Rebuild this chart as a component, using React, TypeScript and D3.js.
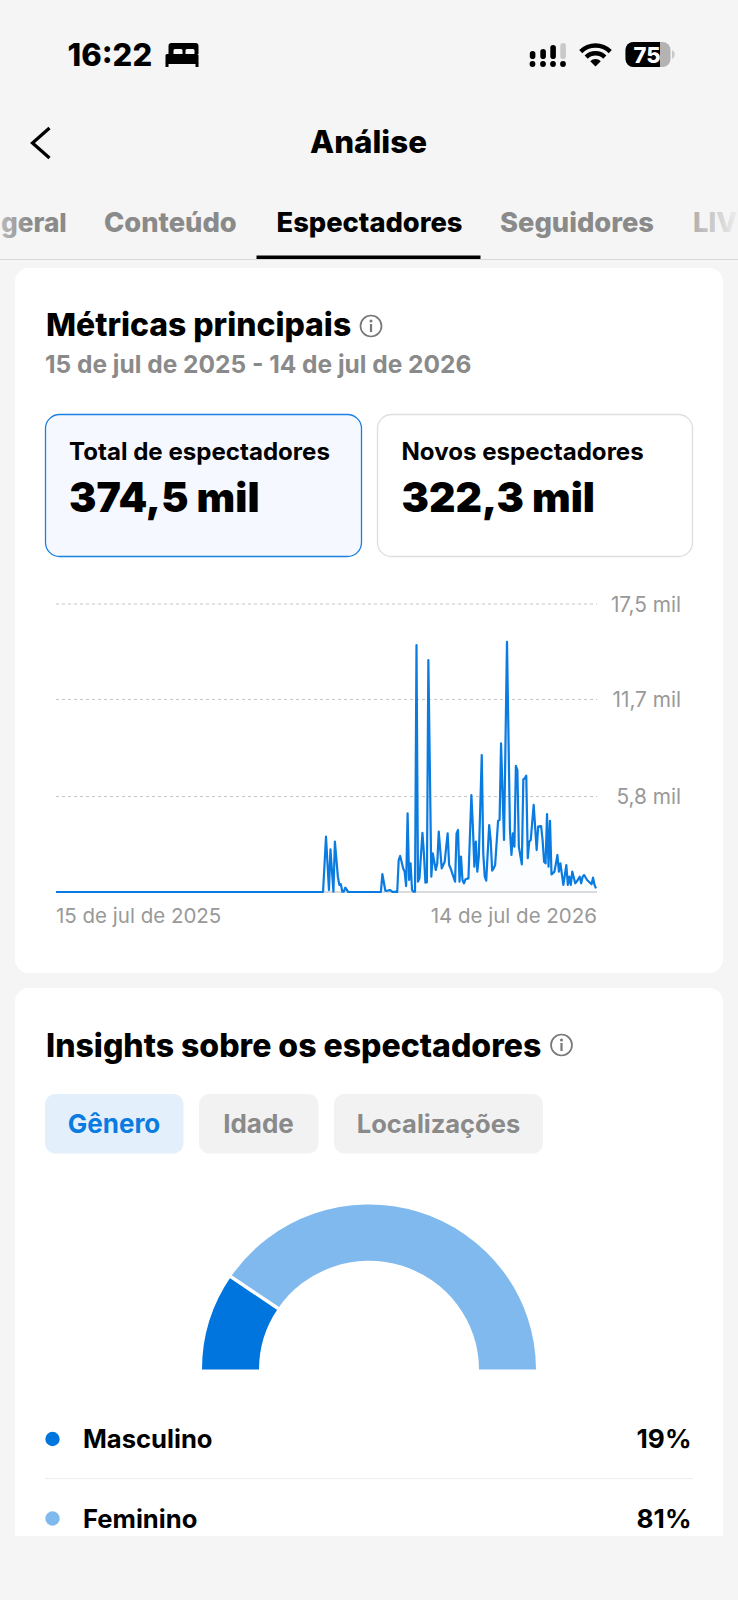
import React from 'react';
import * as d3 from 'd3';

// Days since 15 Jul 2025 and viewers (thousands)
const days = [
  0, 180, 182, 184, 185, 187, 188, 190, 191, 192, 193, 194, 195, 197, 219, 220, 222, 223, 225, 227, 229, 230,
  231, 232, 234, 235, 236, 237, 238, 239, 240, 241, 242, 243, 244, 245, 247, 248, 249, 250, 251, 253, 254, 255,
  256, 257, 258, 260, 262, 264, 265, 266, 269, 270, 271, 272, 273, 274, 275, 276, 278, 280, 281, 282, 283, 284,
  285, 287, 288, 289, 290, 292, 293, 294, 295, 296, 298, 299, 300, 302, 304, 306, 307, 308, 309, 310, 311, 312,
  314, 315, 316, 317, 318, 319, 320, 322, 324, 325, 327, 328, 329, 330, 331, 332, 333, 334, 336, 338, 339, 340,
  342, 344, 345, 346, 347, 348, 350, 351, 353, 354, 355, 356, 358, 361, 362, 363, 364,
];
const viewers = [
  0, 0, 3.36, 0.12, 2.59, 0.02, 3.06, 0.93, 0.43, 0.47, 0.02, 0.02, 0.26, 0, 0, 1.09, 0.08, 0.06, 0.12, 0, 0.02, 0,
  1.94, 2.19, 1.44, 1.24, 0.36, 4.78, 0.73, 1.74, 0.12, 0.02, 0.02, 15.0, 0.63, 0.83, 3.6, 2.35, 0.57, 0.6, 14.09, 0.93, 2.35, 1.84,
  1.34, 1.74, 3.67, 1.44, 1.84, 3.56, 1.64, 1.44, 0.63, 3.56, 3.77, 0.63, 2.15, 0.73, 0.53, 0.77, 0.83, 5.89, 3.97, 1.54, 3.06, 1.24,
  2.15, 8.32, 2.35, 0.93, 0.69, 4.07, 3.16, 1.3, 1.44, 1.64, 4.33, 4.37, 9.03, 3.16, 15.2, 3.77, 2.25, 3.56, 2.75, 7.67, 7.41, 2.75,
  1.68, 6.84, 6.91, 7.07, 2.05, 3.06, 3.16, 5.29, 2.55, 3.97, 4.01, 3.16, 1.84, 1.74, 4.74, 1.54, 4.33, 1.07, 1.24, 2.25, 1.24, 1.74,
  0.43, 1.64, 0.43, 0.93, 0.43, 1.24, 0.53, 0.63, 0.93, 0.53, 0.93, 1.03, 0.73, 0.47, 0.87, 0.43, 0.22,
];
const yTicks = [5.8, 11.7, 17.5];
const yTickLabels = ['5,8 mil', '11,7 mil', '17,5 mil'];
const xLabels = ['15 de jul de 2025', '14 de jul de 2026'];

const genders = ['Masculino', 'Feminino'];
const genderShares = [19, 81];
const genderColors = ['#0075de', '#7fb9ed'];

const tabs = ['geral', 'Conteúdo', 'Espectadores', 'Seguidores', 'LIV'];
const tabX = [1, 104, 276.5, 500, 693];

const FONT = 'Inter, "Noto Sans", sans-serif';
const BLUE = '#0a7be0';
const GRAY = '#8a8a8a';

const x = d3.scaleLinear().domain([0, 364]).range([56, 596]);
const y = d3.scaleLinear().domain([0, 17.5]).range([892, 604]);
const points = days.map((d, i) => [d, viewers[i]] as [number, number]);
const line = d3.line<[number, number]>().x(d => x(d[0])).y(d => y(d[1]));
const area = d3.area<[number, number]>().x(d => x(d[0])).y0(y(0)).y1(d => y(d[1]));

const cx = 369;
const cy = 1369.5;
const slices = d3.pie<number>().sort(null).startAngle(-Math.PI / 2).endAngle(Math.PI / 2)(genderShares);
const donut = d3.arc<d3.PieArcDatum<number>>().innerRadius(110).outerRadius(167);
const cut = slices[0].endAngle;

const wifiArc = d3.arc();
const wifiBands = [[0, 7.5], [11, 15.5], [18.8, 23.2]];

const InfoIcon = ({ cx, cy }: { cx: number; cy: number }) => (
  <g>
    <circle cx={cx} cy={cy} r={10.5} fill="none" stroke="#777" strokeWidth={1.7} />
    <circle cx={cx} cy={cy - 5} r={1.5} fill="#777" />
    <rect x={cx - 1.1} y={cy - 2} width={2.2} height={8} fill="#777" />
  </g>
);

export default function App() {
  return (
    <svg width={738} height={1600} viewBox="0 0 738 1600" style={{ position: 'absolute', left: 0, top: 0, display: 'block' }} fontFamily={FONT}>
      <defs>
        <linearGradient id="areaFill" gradientUnits="userSpaceOnUse" x1={0} x2={0} y1={y(15.2)} y2={y(0)}>
          <stop offset="0" stopColor={BLUE} stopOpacity={0.07} />
          <stop offset="1" stopColor={BLUE} stopOpacity={0.01} />
        </linearGradient>
        <linearGradient id="fadeLeft" gradientUnits="userSpaceOnUse" x1={0} x2={30} y1={0} y2={0}>
          <stop offset="0" stopColor={GRAY} stopOpacity={0.55} />
          <stop offset="1" stopColor={GRAY} />
        </linearGradient>
        <linearGradient id="fadeRight" gradientUnits="userSpaceOnUse" x1={693} x2={735} y1={0} y2={0}>
          <stop offset="0" stopColor={GRAY} stopOpacity={0.65} />
          <stop offset="1" stopColor={GRAY} stopOpacity={0.1} />
        </linearGradient>
      </defs>
      <rect width={738} height={1600} fill="#f5f5f5" />

      {/* status bar */}
      <text x={67.5} y={66} fontSize={31} fontWeight={800} fill="#000">16:22</text>
      <path d="M168.5 54V46a3 3 0 0 1 3-3h24a3 3 0 0 1 3 3v8h-4v-3.5a1.5 1.5 0 0 0-1.5-1.5h-6a1.5 1.5 0 0 0-1.5 1.5V54h-3v-3.5a1.5 1.5 0 0 0-1.5-1.5h-6a1.5 1.5 0 0 0-1.5 1.5V54z" fill="#000" />
      <rect x={165.5} y={54} width={33} height={10} rx={1.5} fill="#000" />
      <rect x={165.5} y={63} width={3} height={4} fill="#000" />
      <rect x={195.5} y={63} width={3} height={4} fill="#000" />
      {[532.5, 543, 553, 563].map(c => <circle key={c} cx={c} cy={64} r={2.9} fill="#000" />)}
      <rect x={529.8} y={51} width={5.6} height={8} rx={2.8} fill="#000" />
      <rect x={540.3} y={49} width={5.6} height={10} rx={2.8} fill="#000" />
      <rect x={550.3} y={45} width={5.6} height={14} rx={2.8} fill="#000" />
      <rect x={560.3} y={43} width={5.6} height={16} rx={2.8} fill="#c9c9c9" />
      <g transform="translate(595.5,66.5)" fill="#000">
        {wifiBands.map(([r0, r1]) => (
          <path key={r1} d={wifiArc({ innerRadius: r0, outerRadius: r1, startAngle: -0.78, endAngle: 0.78 }) || ''} />
        ))}
      </g>
      <rect x={625.5} y={42} width={45} height={25} rx={8} fill="#b3b3b3" />
      <path d="M633.5 42H660V67H633.5a8 8 0 0 1-8-8V50a8 8 0 0 1 8-8z" fill="#000" />
      <path d="M672 50a5 5 0 0 1 0 9z" fill="#c9c9c9" />
      <text x={647} y={62.5} fontSize={22} fontWeight={800} fill="#fff" textAnchor="middle">75</text>

      {/* header */}
      <path d="M49.5 128L32.5 143L49.5 158" fill="none" stroke="#000" strokeWidth={3.2} />
      <text x={368.5} y={153} fontSize={31.3} fontWeight={800} textAnchor="middle" fill="#000">Análise</text>
      {tabs.map((t, i) => (
        <text key={t} x={tabX[i]} y={232} fontSize={t === 'geral' ? 26.2 : 27.3} fontWeight={800}
          fill={t === 'Espectadores' ? '#000' : t === 'geral' ? 'url(#fadeLeft)' : t === 'LIV' ? 'url(#fadeRight)' : GRAY}>{t}</text>
      ))}
      <rect x={0} y={259} width={738} height={1} fill="#d9d9d9" />
      <rect x={256.5} y={255.5} width={224} height={3.5} fill="#000" />

      {/* main metrics card */}
      <rect x={15} y={268} width={708} height={705} rx={14} fill="#fff" />
      <text x={46} y={336} fontSize={31.9} fontWeight={800} fill="#000">Métricas principais</text>
      <InfoIcon cx={371} cy={326} />
      <text x={45} y={373} fontSize={24.5} fontWeight={700} fill={GRAY}>15 de jul de 2025 - 14 de jul de 2026</text>

      <rect x={45.5} y={414.5} width={316} height={142} rx={14} fill="#f5f8fe" stroke="#1a80e2" strokeWidth={1.3} />
      <text x={69} y={460} fontSize={24.1} fontWeight={700} fill="#000">Total de espectadores</text>
      <text x={69} y={512} fontSize={41} fontWeight={900} fill="#000">374,5 mil</text>
      <rect x={377.5} y={414.5} width={315} height={142} rx={14} fill="#fff" stroke="#dedede" strokeWidth={1.3} />
      <text x={401.5} y={460} fontSize={24.1} fontWeight={700} fill="#000">Novos espectadores</text>
      <text x={401.5} y={512} fontSize={41} fontWeight={900} fill="#000">322,3 mil</text>

      {/* line chart */}
      {yTicks.map((t, i) => (
        <g key={t}>
          <line x1={56} x2={597} y1={y(t)} y2={y(t)} stroke="#c4c4c4" strokeWidth={1} strokeDasharray="3 3" />
          <text x={681} y={y(t) + 7.5} fontSize={20.8} textAnchor="end" fill="#999">{yTickLabels[i]}</text>
        </g>
      ))}
      <line x1={56} x2={597} y1={y(0)} y2={y(0)} stroke="#dcdcdc" strokeWidth={2} />
      <path d={area(points) || ''} fill="url(#areaFill)" />
      <path d={line(points) || ''} fill="none" stroke={BLUE} strokeWidth={2.2} strokeLinejoin="round" />
      <text x={56} y={923} fontSize={20.5} fill="#999">{xLabels[0]}</text>
      <text x={597} y={923} fontSize={20.5} fill="#999" textAnchor="end">{xLabels[1]}</text>

      {/* insights card */}
      <path d="M15 1536V1002a14 14 0 0 1 14-14H709a14 14 0 0 1 14 14V1536z" fill="#fff" />
      <text x={46} y={1057} fontSize={32} fontWeight={800} fill="#000">Insights sobre os espectadores</text>
      <InfoIcon cx={561.5} cy={1045} />
      <rect x={45} y={1094} width={138.5} height={59.5} rx={10} fill="#e3f0fb" />
      <text x={114} y={1133} fontSize={26} fontWeight={700} textAnchor="middle" fill={BLUE}>Gênero</text>
      <rect x={199} y={1094} width={119.5} height={59.5} rx={10} fill="#f2f2f2" />
      <text x={258.5} y={1133} fontSize={26} fontWeight={700} textAnchor="middle" fill={GRAY}>Idade</text>
      <rect x={334} y={1094} width={209} height={59.5} rx={10} fill="#f2f2f2" />
      <text x={438.5} y={1133} fontSize={25.5} fontWeight={700} textAnchor="middle" fill={GRAY}>Localizações</text>

      <g transform={`translate(${cx},${cy}) scale(1,0.988)`}>
        {slices.map((s, i) => <path key={genders[i]} d={donut(s) || ''} fill={genderColors[i]} />)}
        <line x1={108 * Math.sin(cut)} y1={-108 * Math.cos(cut)} x2={169 * Math.sin(cut)} y2={-169 * Math.cos(cut)} stroke="#fff" strokeWidth={3.5} />
      </g>

      {genders.map((g, i) => (
        <g key={g}>
          <circle cx={52.5} cy={1439 + i * 79.5} r={7.2} fill={genderColors[i]} />
          <text x={83} y={1448 + i * 79.5} fontSize={25.6} fontWeight={700} fill="#000">{g}</text>
          <text x={691.5} y={1448 + i * 79.5} fontSize={26.2} fontWeight={700} fill="#000" textAnchor="end">{genderShares[i]}%</text>
        </g>
      ))}
      <rect x={45} y={1478} width={648} height={1.2} fill="#f0f0f0" />
    </svg>
  );
}
